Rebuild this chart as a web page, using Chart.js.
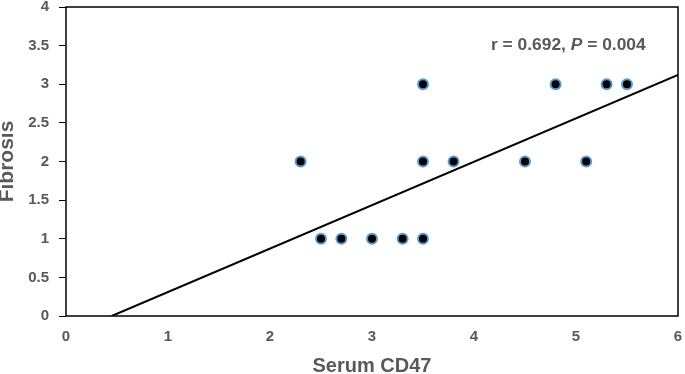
<!DOCTYPE html>
<html>
<head>
<meta charset="utf-8">
<script src="https://cdn.jsdelivr.net/npm/chart.js@4.4.1/dist/chart.umd.min.js"></script>
<style>
html,body{margin:0;padding:0;background:#fff;}
#wrap{width:685px;height:374px;position:relative;}
</style>
</head>
<body>
<div id="wrap"><canvas id="c" width="685" height="374"></canvas></div>
<script>
// Data
const serumCD47 = [2.3, 2.5, 2.7, 3.0, 3.3, 3.5, 3.5, 3.5, 3.8, 4.5, 4.8, 5.1, 5.3, 5.5];
const fibrosis  = [2,   1,   1,   1,   1,   1,   2,   3,   2,   2,   3,   2,   3,   3  ];
const trendSlope = 0.562;
const trendIntercept = -0.252;
const xAxisRange = [0, 6];
const yAxisRange = [0, 4];
const statsLabel = ['r = 0.692, ', 'P', ' = 0.004'];
const xTitle = 'Serum CD47';
const yTitle = 'Fibrosis';

const points = serumCD47.map((x, i) => ({x: x, y: fibrosis[i]}));
const trendStartX = Math.max(xAxisRange[0], -trendIntercept / trendSlope);
const trendEndX = xAxisRange[1];
const trendLine = [trendStartX, trendEndX].map(x => ({x: x, y: trendSlope * x + trendIntercept}));

const GRAY = '#595959';
const FONT = '"Liberation Sans", Arial, sans-serif';

const boxPlugin = {
  id: 'box',
  afterDatasetsDraw(chart) {
    const {ctx, chartArea: a} = chart;
    ctx.save();
    ctx.strokeStyle = '#000';
    ctx.lineWidth = 1.5;
    ctx.strokeRect(a.left, a.top, a.right - a.left, a.bottom - a.top);
    ctx.restore();
  }
};

const statsPlugin = {
  id: 'stats',
  afterDraw(chart) {
    const {ctx} = chart;
    ctx.save();
    ctx.fillStyle = GRAY;
    ctx.textBaseline = 'middle';
    ctx.textAlign = 'left';
    let x = 491, y = 45;
    const normal = 'bold 17.4px ' + FONT;
    const ital = 'italic bold 17.4px ' + FONT;
    const fonts = [normal, ital, normal];
    statsLabel.forEach((t, i) => {
      ctx.font = fonts[i];
      ctx.fillText(t, x, y);
      x += ctx.measureText(t).width;
    });
    ctx.restore();
  }
};

function noPad(s) {
  s.paddingLeft = 0; s.paddingRight = 0; s.paddingTop = 0; s.paddingBottom = 0;
  s.getPadding = () => ({left: 0, top: 0, right: 0, bottom: 0});
}

new Chart(document.getElementById('c'), {
  type: 'scatter',
  data: {
    datasets: [
      {
        type: 'line',
        data: trendLine,
        borderColor: '#000',
        borderWidth: 2,
        pointRadius: 0,
        fill: false,
        order: 2
      },
      {
        data: points,
        backgroundColor: '#000',
        borderColor: '#5B9BD5',
        borderWidth: 2,
        pointRadius: 5,
        order: 1
      }
    ]
  },
  options: {
    responsive: false,
    animation: false,
    devicePixelRatio: 1,
    layout: {padding: {top: 6, right: 4, left: 0, bottom: 0}},
    plugins: {legend: {display: false}, tooltip: {enabled: false}},
    scales: {
      x: {
        type: 'linear',
        min: xAxisRange[0], max: xAxisRange[1],
        afterFit(s) { s.height = 58; noPad(s); },
        grid: {display: false, drawTicks: false},
        border: {display: false},
        ticks: {stepSize: 1, color: GRAY, padding: 12, font: {family: FONT, size: 15, weight: 'bold'},
                callback: v => String(v)},
        title: {display: true, text: xTitle, color: GRAY, padding: 0,
                font: {family: FONT, size: 20, weight: 'bold', lineHeight: 0.75}}
      },
      y: {
        min: yAxisRange[0], max: yAxisRange[1],
        afterFit(s) { s.width = 66; noPad(s); },
        grid: {display: true, drawOnChartArea: false, drawTicks: true, tickLength: 7, color: '#000', lineWidth: 1},
        border: {display: false},
        ticks: {stepSize: 0.5, color: GRAY, padding: 10, font: {family: FONT, size: 15, weight: 'bold'},
                callback: v => String(v)},
        title: {display: true, text: yTitle, color: GRAY, padding: 0,
                font: {family: FONT, size: 21, weight: 'bold', lineHeight: 0.7}}
      }
    }
  },
  plugins: [boxPlugin, statsPlugin]
});
</script>
</body>
</html>
